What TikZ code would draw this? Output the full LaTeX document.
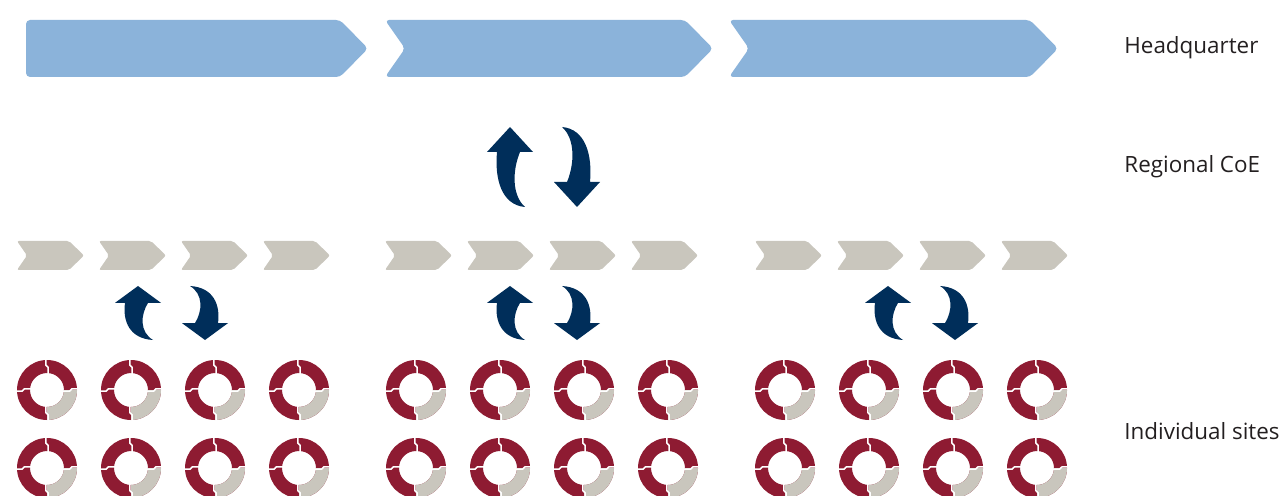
\documentclass[tikz,border=0pt]{standalone}
\usepackage{fontspec}
\setmainfont{Open Sans}
\usetikzlibrary{positioning}
\definecolor{hqblue}{RGB}{139,179,218}
\definecolor{sitegrey}{RGB}{201,198,189}
\definecolor{sitered}{RGB}{142,27,50}
\definecolor{loopnavy}{RGB}{0,46,90}
\definecolor{labeltext}{RGB}{35,31,32}
% one half of the exchange loop, drawn around the pair centre
\newcommand{\loophalf}{%
  (-33.5,-40) -- (-10.5,-15) -- (-23.5,-15)
  .. controls (-31,3) and (-32,28) .. (-18.5,40)
  .. controls (-42,38) and (-49,12) .. (-46.5,-15)
  -- (-56.5,-15) -- cycle}
\newcommand{\hqchevron}[2]{%
  \fill[hqblue,rounded corners=2pt] (#1,20) -- (#2-28,20) -- (#2,48.5) -- (#2-28,77)
    -- (#1,77) -- (#1+20,48.5) -- cycle;%
}
\newcommand{\sitechevron}[1]{%
  \fill[sitegrey,rounded corners=1pt] (#1,241) -- (#1+52,241) -- (#1+67,255.5)
    -- (#1+52,270) -- (#1,270) -- (#1+10,255.5) -- cycle;%
}
\newcommand{\sitering}[2]{%
  \fill[sitered,even odd rule] (#1,#2) circle[radius=30] (#1,#2) circle[radius=17];%
  \fill[sitegrey] (#1+30,#2) arc[start angle=0,end angle=90,radius=30]
    -- (#1,#2+17) arc[start angle=90,end angle=0,radius=17] -- cycle;%
  \foreach \a in {0,90,180,270}
    \draw[white,line width=0.75pt,shift={(#1,#2)},rotate=\a]
      (31,-1.2) -- (25,-1.2) -- (22.5,1.2) -- (16,1.2);%
}
\tikzset{
  swaparrow/.pic={
    \fill[loopnavy] \loophalf;
    \fill[loopnavy,rotate=180] \loophalf;
  },
  lbl/.style={anchor=west,inner sep=0pt,text=labeltext,
    font=\fontsize{11.2}{13}\selectfont},
}

\begin{document}
\begin{tikzpicture}[x=0.5pt,y=-0.5pt]
  \useasboundingbox (0,0) rectangle (1283,496);
  \clip (0,0) rectangle (1283,496);
  % headquarter band
  \fill[hqblue,rounded corners=2pt] (26,20) -- (340,20) -- (368,48.5) -- (340,77) -- (26,77) -- cycle;
  \hqchevron{385}{713}
  \hqchevron{729}{1058}
  % regional exchange
  \pic at (543.5,167) {swaparrow};
  % site level
  \foreach \gx in {17,385,755} {
    \foreach \k in {0,...,3} {\sitechevron{\gx+82*\k}}
  }
  \foreach \cx in {171.5,543.5,921.5} {\pic[yscale=0.675] at (\cx,313) {swaparrow};}
  \foreach \gx in {47,416,785} {
    \foreach \k in {0,...,3} {
      \sitering{\gx+84*\k}{390}
      \sitering{\gx+84*\k}{468}
    }
  }
  \node[lbl] (hq) at (1124,48) {Headquarter};
  \node[lbl] (coe) at (1124,167) {Regional CoE};
  \node[lbl] (sites) at (1124,431) {Individual sites};
\end{tikzpicture}
\end{document}
